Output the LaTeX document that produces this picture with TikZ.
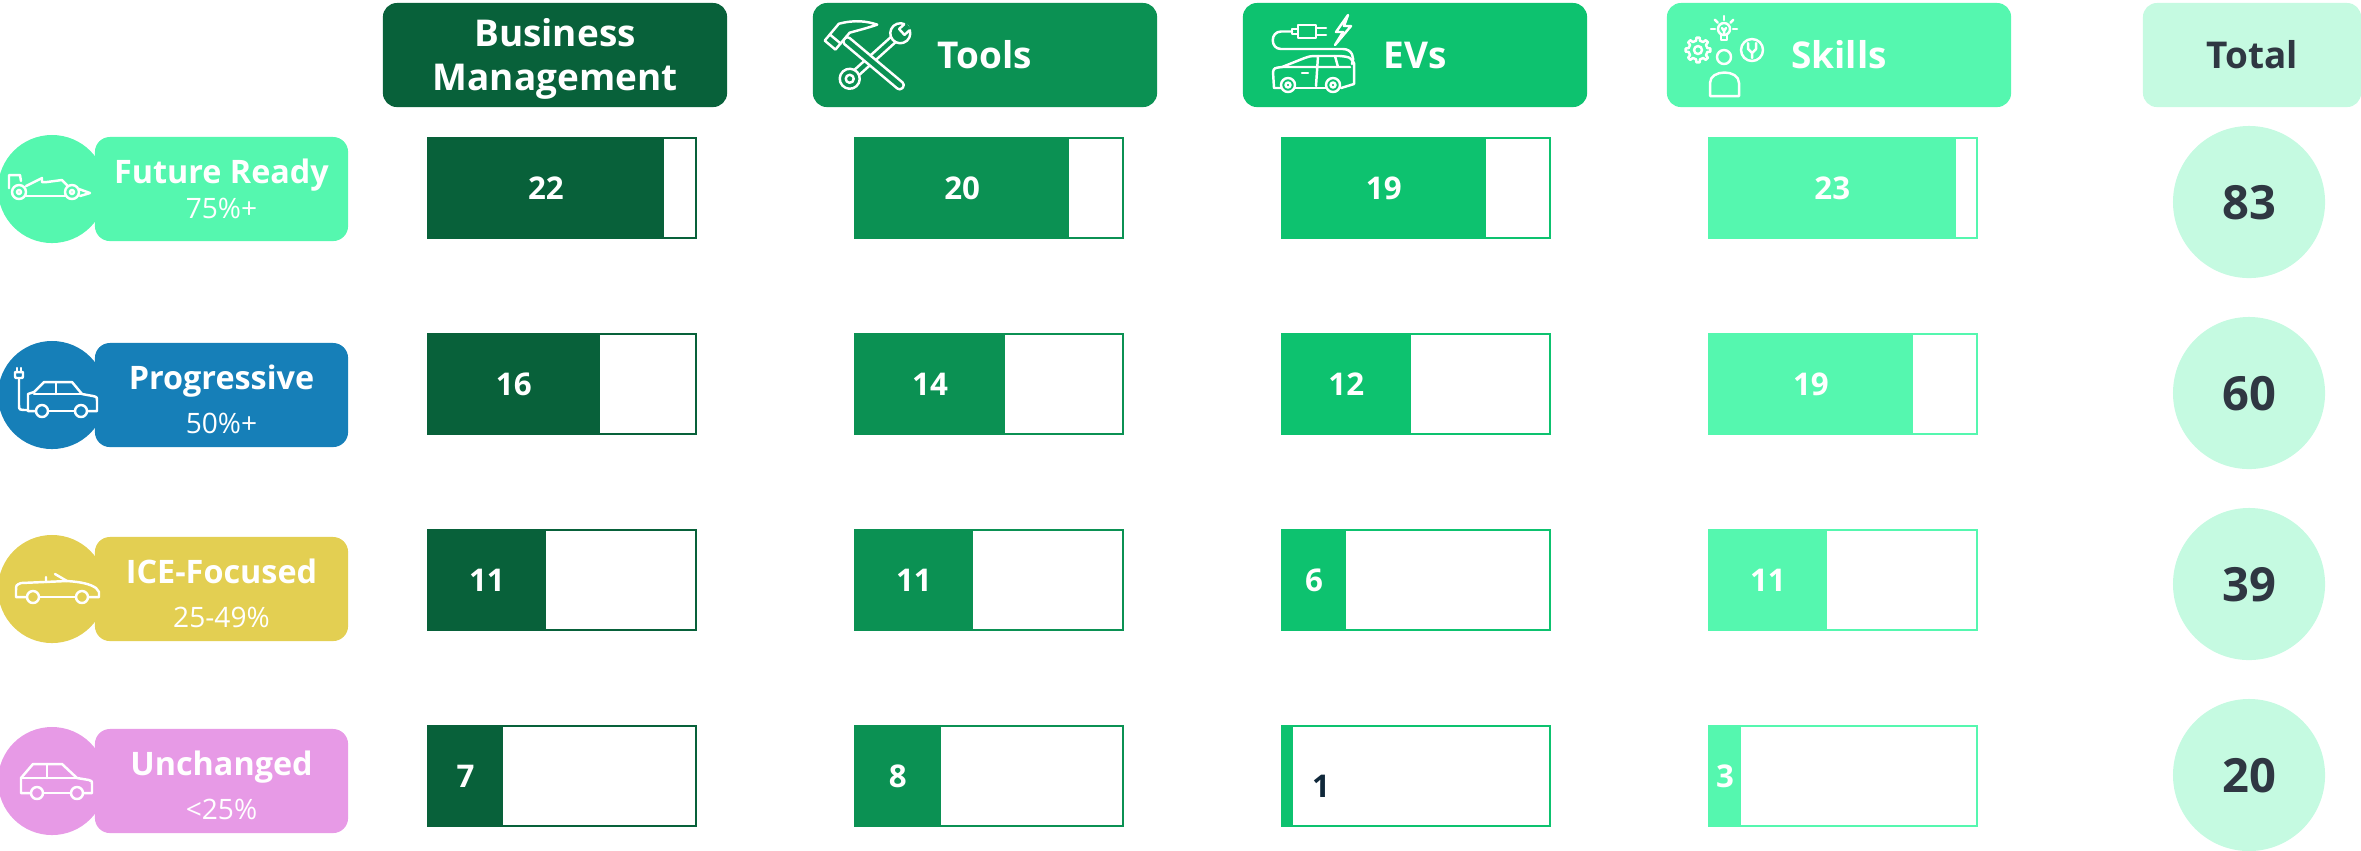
\documentclass[tikz,border=0pt]{standalone}
\usepackage{fontspec}
\setmainfont{Open Sans}
\definecolor{bizgreen}{HTML}{08613A}
\definecolor{toolgreen}{HTML}{0B9153}
\definecolor{evgreen}{HTML}{0DC26F}
\definecolor{skillmint}{HTML}{55F7AF}
\definecolor{totalmint}{HTML}{C5FAE1}
\definecolor{progblue}{HTML}{167FB8}
\definecolor{iceyellow}{HTML}{E3CF52}
\definecolor{unchpink}{HTML}{E79AE6}
\definecolor{darktext}{HTML}{2F3742}
\definecolor{navytext}{HTML}{10283A}
\tikzset{
  headbox/.style={rectangle, rounded corners=0.14cm, minimum width=3.44cm, minimum height=1.04cm, inner sep=0, outer sep=0},
  headtext/.style={text=white, font=\fontsize{10.5}{12}\selectfont\bfseries, inner sep=0},
  tierdot/.style={circle, minimum size=1.08cm, inner sep=0, outer sep=0},
  tierpill/.style={rectangle, rounded corners=0.15cm, minimum width=2.53cm, minimum height=1.04cm, inner sep=0, outer sep=0},
  tiertitle/.style={text=white, font=\fontsize{9.2}{11}\selectfont\bfseries, inner sep=0},
  tiersub/.style={text=white, font=\fontsize{8}{10}\selectfont, inner sep=0},
  barframe/.style={line width=0.7pt, fill=white},
  barnum/.style={text=white, font=\fontsize{8.9}{10}\selectfont\bfseries, inner sep=0},
  totaldot/.style={circle, fill=totalmint, minimum size=1.52cm, inner sep=0},
  totalnum/.style={text=darktext, font=\fontsize{13.4}{15}\selectfont\bfseries, inner sep=0},
  icon/.style={draw=white, line width=0.7pt, line cap=round, line join=round},
}
\begin{document}
\begin{tikzpicture}[x=0.01cm, y=-0.01cm]
    \useasboundingbox (0,0) rectangle (2361,850);
    % column heads
    \node[headbox, fill=bizgreen] (bizHead) at (555,55) {};
    \node[headbox, fill=toolgreen] (toolHead) at (985,55) {};
    \node[headbox, fill=evgreen] (evHead) at (1415,55) {};
    \node[headbox, fill=skillmint] (skillHead) at (1839,55) {};
    \node[headbox, fill=totalmint, minimum width=2.18cm] (totalHead) at (2252,55) {};
    \node[headtext, anchor=base] (bizText) at (555,46) {Business};
    \node[headtext, anchor=base] (mgmtText) at (555,90) {Management};
    \node[headtext, anchor=base] (toolText) at (985,68) {Tools};
    \node[headtext, anchor=base] (evText) at (1415,68) {EVs};
    \node[headtext, anchor=base] (skillText) at (1839,68) {Skills};
    \node[headtext, anchor=base, text=darktext] (totalText) at (2252,68) {Total};
    % tools icon
    \begin{scope}[shift={(875,56)}, rotate=42]
        \draw[icon, fill=toolgreen] (-26,-3.5) rectangle (26,3.5);
        \draw[icon, fill=toolgreen] (-34,0) circle (10);
        \draw[icon] (-34,0) circle (4);
        \draw[icon, fill=toolgreen] (34,0) circle (10);
        \fill[toolgreen] (36,-4) rectangle (45,4);
        \draw[icon] (43,-4) -- (36,-4) -- (36,4) -- (43,4);
    \end{scope}
    \begin{scope}[shift={(872,62)}, rotate=-40]
        \draw[icon, fill=toolgreen, rounded corners=1pt] (-36,-4) rectangle (40,4);
        \draw[icon, fill=toolgreen] (-50,14) -- (-50,-8) .. controls (-40,-22) and (-30,-28) .. (-20,-32) .. controls (-26,-22) and (-32,-14) .. (-36,-8) -- (-36,14) -- cycle;
        \draw[icon] (-50,6) -- (-36,6);
    \end{scope}
    % ev icon
    \draw[icon] (1298,25) rectangle (1316,38);
    \draw[icon] (1316,28) -- (1326,28) (1316,35) -- (1326,35);
    \draw[icon] (1292,29) rectangle (1298,34);
    \draw[icon] (1292,31.5) -- (1281,31.5) .. controls (1270,31.5) and (1270,49) .. (1281,49) -- (1343,49) .. controls (1352,49) and (1355,58) .. (1352,64);
    \draw[icon] (1348,15) -- (1336,32) -- (1343,32) -- (1335,45) -- (1351,26) -- (1344,26) -- cycle;
    \draw[icon] (1281,88) -- (1274,88) -- (1273,72) .. controls (1274,68) .. (1282,67) -- (1302,59) .. controls (1310,56) .. (1318,56) -- (1340,56) .. controls (1350,57) .. (1354,63) -- (1354,84) -- (1341,88);
    \draw[icon] (1295,88) -- (1326,88);
    \draw[icon] (1288,85) circle (7) (1288,85) circle (2.5) (1333,85) circle (7) (1333,85) circle (2.5);
    \draw[icon] (1282,67) -- (1350,67) (1318,56) -- (1316,86) (1335,56) -- (1338,67);
    \draw[icon] (1302,73) -- (1308,73);
    % skills icon
    \begin{scope}[shift={(1698,50)}]
        \draw[icon] (0,0) circle (4);
        \draw[icon] ({-12}:9.5) \foreach \a in {0,45,...,315}{ -- ({\a-12}:9.5) -- ({\a-7}:12.5) -- ({\a+7}:12.5) -- ({\a+12}:9.5) } -- cycle;
    \end{scope}
    \begin{scope}[shift={(1724,29)}]
        \draw[icon] (0,0) circle (6);
        \draw[icon] (-3,6) -- (-3,11) -- (3,11) -- (3,6);
        \draw[icon] (-2,-1) -- (0,2) -- (2,-1) (0,2) -- (0,6);
        \foreach \a in {180,225,270,315,0}
            \draw[icon] (\a:9) -- (\a:13);
    \end{scope}
    \draw[icon] (1724,57) circle (7);
    \draw[icon] (1710,96) -- (1710,83) .. controls (1710,69) and (1739,69) .. (1739,83) -- (1739,96) -- cycle;
    \draw[icon] (1752,50) circle (11);
    \draw[icon] (1748,43) -- (1748,49) -- (1752,53) -- (1756,49) -- (1756,43) (1752,53) -- (1752,58);
    % tiers
    \foreach \name/\sub/\col/\cy/\sb [count=\i] in {Future Ready/75\%+/skillmint/189/218, Progressive/50\%+/progblue/395/433, ICE-Focused/25-49\%/iceyellow/589/627, Unchanged/<25\%/unchpink/781/819}{
        \node[tierdot, fill=\col] (dot\i) at (52,\cy) {};
        \node[tierpill, fill=\col] (pill\i) at (221.5,\cy) {};
        \node[tiertitle, anchor=base] (title\i) at (221.5,\cy-6) {\name};
        \node[tiersub, anchor=base] (sub\i) at (221.5,\sb) {\sub};
    }
    % race car
    \begin{scope}[shift={(52,189)}]
        \draw[icon] (-43,-1) -- (-43,-14) -- (-32,-14) -- (-31,-8);
        \draw[icon] (-33,3) circle (7) (-33,3) circle (2);
        \draw[icon] (20,3) circle (7) (20,3) circle (2);
        \draw[icon] (-26,-3) -- (-10,-11) -- (-10,-7) -- (-5,-7) -- (10,-9) -- (15,-4);
        \draw[icon] (-26,7) -- (13,7);
        \draw[icon] (27,0) -- (38,4) -- (28,7);
    \end{scope}
    % plug-in car
    \begin{scope}[shift={(52,395)}]
        \draw[icon] (-35,-27) -- (-35,-23) (-31,-27) -- (-31,-23);
        \draw[icon] (-37,-23) -- (-29,-23) -- (-29,-19) .. controls (-29,-17) .. (-33,-17) .. controls (-37,-17) .. (-37,-19) -- cycle;
        \draw[icon] (-33,-17) -- (-33,10) .. controls (-33,15) .. (-24,15);
        \draw[icon] (-16,16) -- (-24,16) -- (-24,-1) -- (-18,-3) -- (-8,-13) -- (20,-13) -- (30,-1) -- (41,1) .. controls (45,2) .. (45,6) -- (45,16) -- (35,16);
        \draw[icon] (-4,16) -- (23,16);
        \draw[icon] (-10,16) circle (6) (29,16) circle (6);
        \draw[icon] (-18,-1) -- (30,-1) (4,-13) -- (4,-1);
    \end{scope}
    % convertible
    \begin{scope}[shift={(52,589)}]
        \draw[icon] (-25,8) -- (-36,8) -- (-36,2) .. controls (-36,-4) .. (-31,-6) -- (15,-8) .. controls (30,-7) and (38,-5) .. (44,-1) -- (47,3) -- (47,8) -- (36,8);
        \draw[icon] (-6,-12) -- (-6,-7) (3,-15) -- (15,-8);
        \draw[icon] (-13,8) -- (24,8);
        \draw[icon] (-19,8) circle (6) (30,8) circle (6);
    \end{scope}
    % hatchback
    \begin{scope}[shift={(52,781)}]
        \draw[icon] (-21,12) -- (-31,12) -- (-31,-3) -- (-19,-17) -- (10,-17) -- (25,-3) -- (37,-1) .. controls (40,0) .. (40,3) -- (40,12) -- (31,12);
        \draw[icon] (-9,12) -- (19,12);
        \draw[icon] (-15,12) circle (6) (25,12) circle (6);
        \draw[icon] (-31,-3) -- (25,-3) (-5,-17) -- (-5,-3);
    \end{scope}
    % bars
    \foreach \by/\va/\vb/\vc/\vd [count=\r] in {138/22/20/19/23, 334/16/14/12/19, 530/11/11/6/11, 726/7/8/1/3}{
        \foreach \bx/\col/\v [count=\c] in {428/bizgreen/\va, 855/toolgreen/\vb, 1282/evgreen/\vc, 1709/skillmint/\vd}{
            \draw[barframe, draw=\col] (\bx,\by) rectangle ++(268,100);
            \fill[\col] (\bx,\by) rectangle ++(\v*10.72,100);
            \ifnum\v>2
                \node[barnum, anchor=base] (num\r\c) at (\bx+\v*5.36,\by+61) {\v};
            \else
                \node[barnum, anchor=base, text=navytext] (num\r\c) at (\bx+39,\by+71) {\v};
            \fi
        }
    }
    % totals
    \foreach \ty/\tv [count=\i] in {202/83, 393/60, 584/39, 775/20}{
        \node[totaldot] (tot\i) at (2249,\ty) {};
        \node[totalnum, anchor=base] (totNum\i) at (2249,\ty+17) {\tv};
    }
\end{tikzpicture}
\end{document}
